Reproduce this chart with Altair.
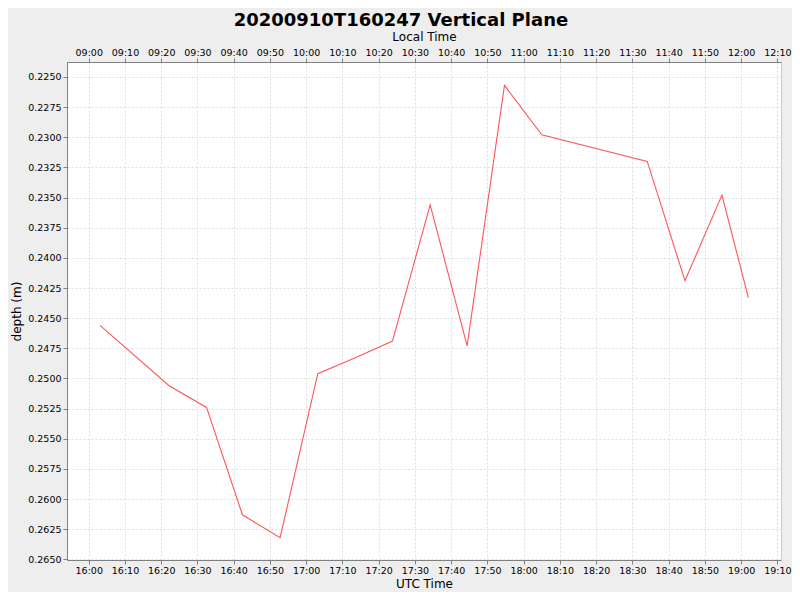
import altair as alt
import pandas as pd

# Data (UTC times, depth in m)
utc_times = ["16:03:06", "16:22:10", "16:32:30", "16:42:24", "16:52:48",
             "17:03:12", "17:13:24", "17:23:48", "17:34:12", "17:44:24",
             "17:54:42", "18:05:00", "18:34:06", "18:44:30", "18:54:42",
             "19:02:00"]
depths = [0.2456, 0.2506, 0.2524, 0.2613, 0.2632,
          0.2496, 0.2483, 0.2469, 0.2356, 0.2473,
          0.2257, 0.2298, 0.2320, 0.2419, 0.2348,
          0.2433]

date = "2020-09-10"
df = pd.DataFrame({
    "time": [f"{date}T{t}Z" for t in utc_times],
    "depth": depths,
})

# tick labels
y_ticks = [0.2250, 0.2275, 0.2300, 0.2325, 0.2350, 0.2375, 0.2400, 0.2425,
           0.2450, 0.2475, 0.2500, 0.2525, 0.2550, 0.2575, 0.2600, 0.2625,
           0.2650]
x_tick_times = ["16:00", "16:10", "16:20", "16:30", "16:40", "16:50",
                "17:00", "17:10", "17:20", "17:30", "17:40", "17:50",
                "18:00", "18:10", "18:20", "18:30", "18:40", "18:50",
                "19:00", "19:10"]
local_offset_hours = -7


def dt(hm, sec=0):
    h, m = hm.split(":")
    return alt.DateTime(year=2020, month=9, date=10, hours=int(h),
                        minutes=int(m), seconds=sec, utc=True)


x_values = [dt(t) for t in x_tick_times]
x_domain = [dt("15:54"), dt("19:11")]

FONT = "DejaVu Sans"
AXIS_GREY = "#808080"

x_scale = alt.Scale(type="utc", domain=x_domain)
y_scale = alt.Scale(domain=[0.22376, 0.26505], reverse=True, zero=False, nice=False)
y_axis = alt.Axis(title="depth (m)", values=y_ticks, format=".4f",
                  grid=True, labelPadding=2, titlePadding=4,
                  labelOverlap=False)
y_enc = alt.Y("depth:Q", scale=y_scale, axis=y_axis)

bottom = alt.Chart(df).mark_line(color="#FF5555", strokeWidth=1.1).encode(
    x=alt.X("time:T", scale=x_scale,
            axis=alt.Axis(orient="bottom", title="UTC Time", format="%H:%M",
                          values=x_values, grid=True, labelPadding=1,
                          labelOverlap=False, titlePadding=4)),
    y=y_enc,
)

top = alt.Chart(df).mark_line(opacity=0).encode(
    x=alt.X("time:T", scale=x_scale,
            axis=alt.Axis(orient="top", title="Local Time", values=x_values,
                          grid=False, labelPadding=1, titlePadding=4,
                          labelOverlap=False,
                          labelExpr=f"utcFormat(datum.value + ({local_offset_hours})*3600000, '%H:%M')")),
    y=y_enc,
)

chart = alt.layer(bottom, top).resolve_axis(x="independent").properties(
    width=714,
    height=498,
    title=alt.TitleParams("20200910T160247 Vertical Plane", font=FONT,
                          fontSize=18, fontWeight="bold", color="#000000",
                          anchor="middle", frame="bounds", offset=0),
    autosize=alt.AutoSizeParams(type="none"),
    padding={"left": 59, "top": 54, "right": 11, "bottom": 32},
    background="#EEEEEE",
).configure_view(
    fill="white", stroke="#CCCCCC", strokeWidth=1,
).configure_axis(
    labelFont=FONT, labelFontSize=9.5, labelColor="#000000",
    titleFont=FONT, titleFontSize=12, titleFontWeight="normal",
    titleColor="#000000",
    domainColor=AXIS_GREY, domainWidth=1,
    tickColor=AXIS_GREY, tickSize=4,
    gridColor="#DDDDDD", gridDash=[2, 2], gridWidth=1,
)

chart.save("out.html", embed_options={"renderer": "svg", "actions": False})
